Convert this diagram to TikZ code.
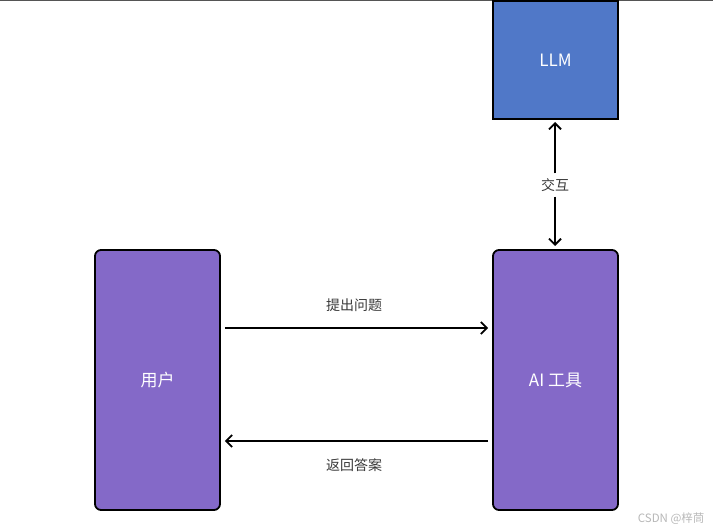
\documentclass[tikz,border=0pt]{standalone}
\usepackage{fontspec}
\setmainfont{Noto Sans CJK SC}
\usetikzlibrary{arrows.meta}
\definecolor{llmblue}{HTML}{5078C8}
\definecolor{boxpurple}{HTML}{8469C8}
\definecolor{labelgrey}{HTML}{3A3A3A}
\definecolor{topline}{HTML}{555555}
\definecolor{wmark}{HTML}{B8B8B8}
\tikzset{
  box/.style={draw=black, line width=1.8pt, text=white, font=\fontsize{17}{19}\selectfont},
  roundbox/.style={box, fill=boxpurple, rounded corners=6pt},
  squarebox/.style={box, fill=llmblue},
  conn/.style={line width=1.8pt, -{Straight Barb[length=6pt,width=12pt,line width=1.8pt]}},
  lbl/.style={text=labelgrey, font=\fontsize{14}{16}\selectfont},
}
\begin{document}
\begin{tikzpicture}[x=1pt,y=-1pt]
\useasboundingbox (0,0) rectangle (713,532);
\fill[white] (0,0) rectangle (713,532);
\draw[topline, line width=1.5pt] (0,0.5) -- (713,0.5);
\node[squarebox, minimum width=125pt, minimum height=118pt, inner sep=0pt] (llm) at (555.5,60) {LLM};
\node[roundbox, minimum width=125pt, minimum height=260pt, inner sep=0pt] (user) at (157.5,380) {用户};
\node[roundbox, minimum width=125pt, minimum height=260pt, inner sep=0pt] (ai) at (555.5,380) {AI 工具};
\node[lbl, inner ysep=5pt] (inter) at (555,185) {交互};
\draw[conn] (inter.north) -- (inter.north |- 0,122);
\draw[conn] (inter.south) -- (inter.south |- 0,246);
\coordinate (u1) at ([xshift=4pt]user.east |- 0,328);
\coordinate (a1) at ([xshift=-4pt]ai.west |- 0,328);
\coordinate (u2) at ([xshift=4pt]user.east |- 0,441);
\coordinate (a2) at ([xshift=-4pt]ai.west |- 0,441);
\draw[conn] (u1) -- (a1);
\draw[conn] (a2) -- (u2);
\node[lbl] (ask) at (354,305) {提出问题};
\node[lbl] (ans) at (354,465) {返回答案};
\node[text=wmark, font=\fontsize{11.5}{13}\selectfont, anchor=east] (wm) at (708,519) {CSDN @梓茼};
\end{tikzpicture}
\end{document}
